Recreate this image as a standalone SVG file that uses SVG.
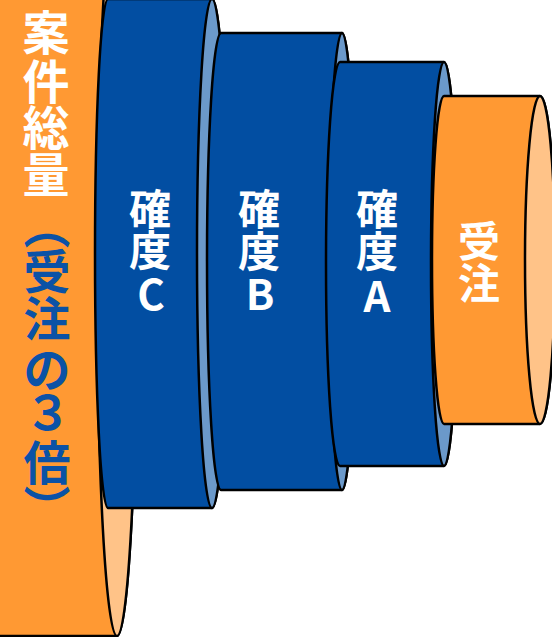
<svg xmlns="http://www.w3.org/2000/svg" width="552" height="637" viewBox="0 0 552 637">
<style>
.sh{stroke:#000;stroke-width:2.5;stroke-linejoin:round}
.ob{fill:#FF9933}
.oc{fill:#FFC388}
.bb{fill:#024EA2}
.bc{fill:#6B99CA}
text{font-family:"Noto Sans CJK JP","Noto Sans CJK SC",sans-serif;font-weight:bold;text-anchor:middle}
.w{fill:#fff}
.lbl{font-size:42px}
.big{font-size:47px}
.blue{fill:#0B52A6}
</style>
<rect width="552" height="637" fill="#fff"/>
<g id="total">
<path class="sh ob" d="M-60,-96 L117,-96 A20 366 0 0 1 117,636 L-60,636 A20 366 0 0 1 -60,-96 Z"/>
<ellipse class="sh oc" cx="117" cy="270" rx="20" ry="366"/>
<text class="big w"><tspan x="46" y="50">案</tspan><tspan x="46" y="99">件</tspan><tspan x="46" y="145">総</tspan><tspan x="46" y="192">量</tspan></text>
<text class="big blue"><tspan x="47" y="243">︵</tspan><tspan x="47" y="289">受</tspan><tspan x="47" y="336">注</tspan><tspan x="47" y="387">の</tspan><tspan x="48" y="430">３</tspan><tspan x="47" y="480">倍</tspan><tspan x="47" y="526">︶</tspan></text>
</g>
<g id="kakudoC">
<path class="sh bb" d="M108,-1 L212,-1 A15 254.5 0 0 1 212,508 L108,508 A13 254.5 0 0 1 108,-1 Z"/>
<ellipse class="sh bc" cx="212" cy="253.5" rx="15" ry="254.5"/>
<text class="lbl w"><tspan x="150" y="225">確</tspan><tspan x="150" y="266">度</tspan><tspan x="151" y="310">C</tspan></text>
</g>
<g id="kakudoB">
<path class="sh bb" d="M221,33 L342,33 A13 228.5 0 0 1 342,490 L221,490 A14 228.5 0 0 1 221,33 Z"/>
<ellipse class="sh bc" cx="342" cy="261.5" rx="13" ry="228.5"/>
<text class="lbl w"><tspan x="259" y="225">確</tspan><tspan x="259" y="267">度</tspan><tspan x="260" y="310">B</tspan></text>
</g>
<g id="kakudoA">
<path class="sh bb" d="M340,62 L444,62 A13 202 0 0 1 444,466 L340,466 A14 202 0 0 1 340,62 Z"/>
<ellipse class="sh bc" cx="444" cy="264" rx="13" ry="202"/>
<text class="lbl w"><tspan x="377" y="225">確</tspan><tspan x="377" y="267">度</tspan><tspan x="377" y="312">A</tspan></text>
</g>
<g id="juchu">
<path class="sh ob" d="M444,96 L540,96 A15 164 0 0 1 540,424 L444,424 A12 164 0 0 1 444,96 Z"/>
<ellipse class="sh oc" cx="540" cy="260" rx="15" ry="164"/>
<text class="lbl w"><tspan x="479" y="257">受</tspan><tspan x="479" y="299">注</tspan></text>
</g>
<g id="connectors"/>
</svg>
